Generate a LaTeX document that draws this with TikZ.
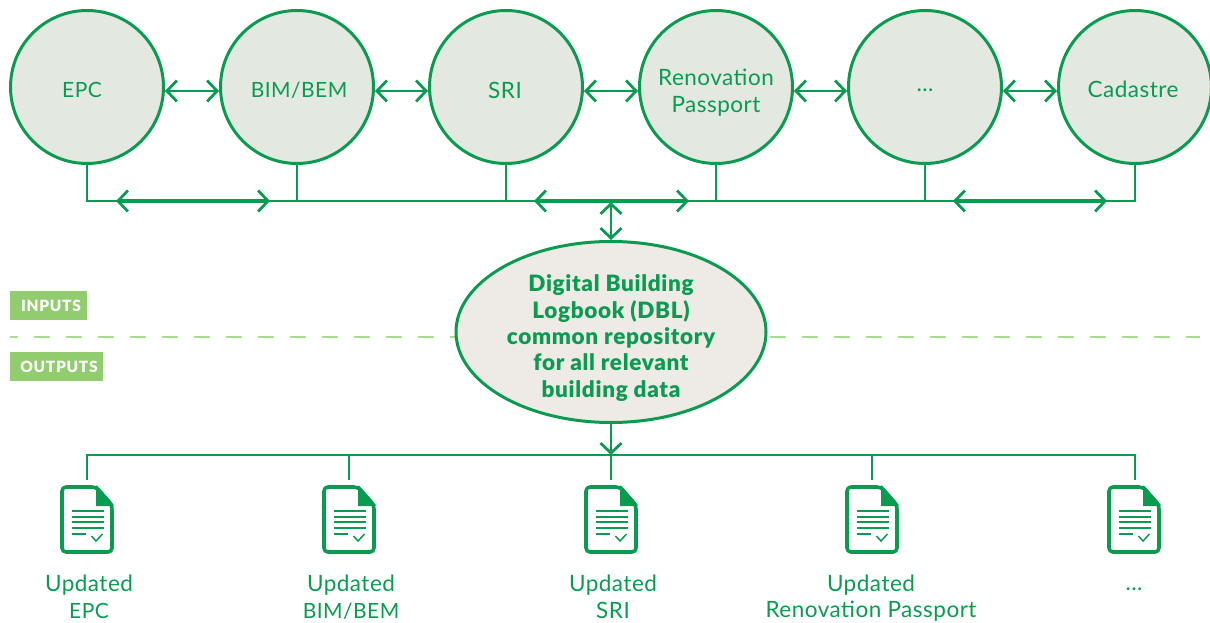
\documentclass[tikz,border=0pt]{standalone}
\usepackage{fontspec}
\setmainfont{Lato}
\newfontfamily\regfont[LetterSpace=2.2]{Lato}
\newfontfamily\boldfont[LetterSpace=3.0]{Lato Black}
\newfontfamily\tagfont[LetterSpace=4.5]{Lato Black}
\newcommand{\capsize}{\fontsize{21}{26.5}\selectfont}
\usetikzlibrary{arrows.meta,shapes.geometric}
\definecolor{grn}{HTML}{0A9B50}
\definecolor{lgrn}{HTML}{91CC6F}
\definecolor{dashg}{HTML}{A9DB90}
\definecolor{cfill}{HTML}{E3E8E0}
\definecolor{efill}{HTML}{EEEAE6}
\tikzset{
  circ/.style={circle,draw=grn,fill=cfill,line width=3pt,minimum size=153pt,inner sep=0pt},
  dbl/.style={grn,line width=2.8pt,{Straight Barb[length=10pt,width=21pt,line width=2.8pt]}-{Straight Barb[length=10pt,width=21pt,line width=2.8pt]}},
  dblthick/.style={dbl,line width=3.8pt},
  single/.style={grn,line width=2.8pt,-{Straight Barb[length=10pt,width=21pt,line width=2.8pt]}},
  wire/.style={grn,line width=2.8pt},
  txt/.style={text=grn,font=\regfont\fontsize{22.5}{26.5}\selectfont,align=center,inner sep=0pt},
  btxt/.style={text=grn,font=\boldfont\fontsize{22.5}{26.4}\selectfont,align=center,inner sep=0pt},
  tag/.style={fill=lgrn,text=white,font=\tagfont\fontsize{15.5}{18}\selectfont,inner sep=0pt,minimum height=29pt,anchor=west,align=left},
  divider/.style={dashg,line width=1.6pt,dash pattern=on 16pt off 16pt,dash phase=8pt},
  docicon/.pic={
    \draw[grn,line width=3.6pt,line join=round,rounded corners=4pt] (-25,-33) -- (9,-33) -- (25,-15) -- (25,32) -- (-25,32) -- cycle;
    \fill[grn] (9,-34.5) -- (10,-34.5) -- (26.5,-15.5) -- (26.5,-14) -- (9,-14) -- cycle;
    \foreach \y in {-9.3,-3.3,2.3,8}{\draw[grn,line width=1.8pt] (-15,\y) -- (17,\y);}
    \draw[grn,line width=1.8pt] (-15,14) -- (-1,14);
    \draw[grn,line width=1.5pt] (4.5,16) -- (9,21) -- (15.5,14);
  }
}
\begin{document}
\begin{tikzpicture}[x=1pt,y=-1pt]
\useasboundingbox (0,0) rectangle (1210,623);
% divider
\coordinate (dl) at (10,337); \coordinate (dr) at (1200,337);
\draw[divider] (dl) -- (dr);
% circles
\node[circ] (c1) at (87,87) {};
\node[circ] (c2) at (297,87) {};
\node[circ] (c3) at (506,87) {};
\node[circ] (c4) at (716,87) {};
\node[circ] (c5) at (925,87) {};
\node[circ] (c6) at (1135,87) {};
\node[txt] (t1) at (82,90) {\capsize EPC};
\node[txt] (t2) at (299,90) {\capsize BIM/BEM};
\node[txt] (t3) at (505,90) {SRI};
\node[txt] (t4) at (716,92.5) {Renovation\\Passport};
\node[txt] (t5) at (925,90.5) {...};
\node[txt] (t6) at (1133,89.5) {Cadastre};
% links between circles
\foreach \a/\b in {c1/c2,c2/c3,c3/c4,c4/c5,c5/c6}
  \draw[dbl] ([yshift=-4pt]\a.east) -- ([yshift=-4pt]\b.west);
% input bus
\coordinate (b1) at (87,201); \coordinate (b2) at (297,201); \coordinate (b3) at (506,201);
\coordinate (b4) at (716,201); \coordinate (b5) at (925,201); \coordinate (b6) at (1135,201);
\draw[wire] (c1.south) -- (b1) -- (b6) -- (c6.south);
\foreach \a/\b in {c2/b2,c3/b3,c4/b4,c5/b5} \draw[wire] (\a.south) -- (\b);
\coordinate (a1) at (116,201); \coordinate (a2) at (270,201);
\coordinate (a3) at (534,201); \coordinate (a4) at (689,201);
\coordinate (a5) at (953,201); \coordinate (a6) at (1107,201);
\draw[dblthick] (a1) -- (a2);
\draw[dblthick] (a3) -- (a4);
\draw[dblthick] (a5) -- (a6);
% ellipse
\node[ellipse,draw=grn,fill=efill,line width=3pt,minimum width=310pt,minimum height=181pt,inner sep=0pt] (dbl) at (611,332) {};
\node[btxt] (dbltxt) at (611,338) {Digital Building\\Logbook (DBL)\\common repository\\for all relevant\\building data};
\coordinate (top) at (611,202);
\draw[dbl] (top) -- (dbl.north);
% tags
\node[tag,minimum width=77pt] (inp) at (10,305.5) {\hspace{4.5pt}INPUTS\hfill};
\node[tag,minimum width=93pt] (outp) at (10,366.5) {\hspace{4.5pt}OUTPUTS\hfill};
% output bus
\coordinate (o1) at (87,455); \coordinate (o2) at (349,455); \coordinate (o3) at (611,455);
\coordinate (o4) at (872,455); \coordinate (o5) at (1135,455);
\draw[single] (dbl.south) -- (o3);
\coordinate (e1) at (87,480); \coordinate (e2) at (349,480); \coordinate (e3) at (611,480);
\coordinate (e4) at (872,480); \coordinate (e5) at (1135,480);
\draw[wire] (e1) -- (o1) -- (o5) -- (e5);
\foreach \a/\b in {o2/e2,o3/e3,o4/e4} \draw[wire] (\a) -- (\b);
% icons
\foreach \x in {87,349,611,872,1134} \pic at (\x,520) {docicon};
% output labels
\node[txt] (u1) at (89,597) {Updated\\{\capsize EPC}};
\node[txt] (u2) at (351,597) {Updated\\{\capsize BIM/BEM}};
\node[txt] (u3) at (613,597) {Updated\\SRI};
\node[txt] (u4) at (871,598) {Updated\\Renovation Passport};
\node[txt] (u5) at (1134,589) {...};
\end{tikzpicture}
\end{document}
